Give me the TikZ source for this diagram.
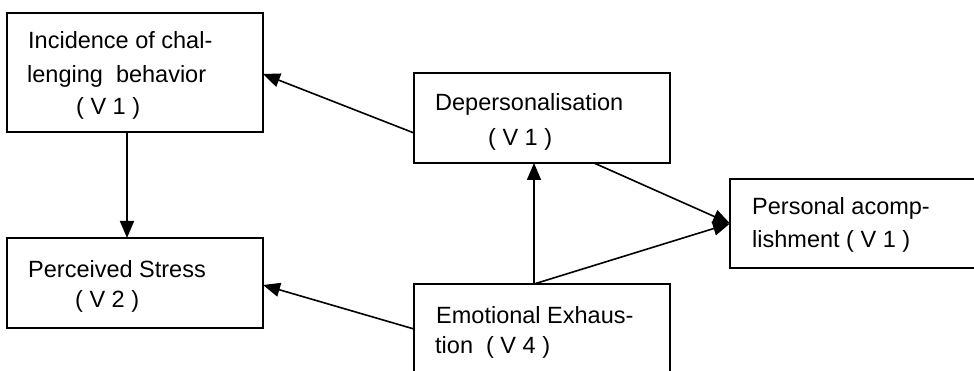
\documentclass[tikz,border=0pt]{standalone}
\usepackage{fontspec}
\setmainfont{Liberation Sans}
\usetikzlibrary{arrows.meta}
\begin{document}
\begin{tikzpicture}[x=1pt,y=-1pt,
  box/.style={draw, line width=1.6pt, inner sep=0pt, outer sep=0pt, anchor=north west},
  txt/.style={anchor=base west, inner sep=0pt, font=\fontsize{23.5}{28}\selectfont},
  arr/.style={line width=1.6pt, -{Triangle[length=17pt,width=14pt]}}]
\useasboundingbox (0,0) rectangle (974,371);
\clip (0,0) rectangle (974,371);
% boxes
\node[box, minimum width=256pt, minimum height=119pt] (b1) at (7,13) {};
\node[box, minimum width=256pt, minimum height=90pt] (b2) at (7,238) {};
\node[box, minimum width=256pt, minimum height=90pt] (b3) at (414,73) {};
\node[box, minimum width=256pt, minimum height=100pt] (b4) at (414,284) {};
\node[box, minimum width=260pt, minimum height=89pt] (b5) at (730,179) {};
% texts
\node[txt] (t1a) at (28,49) {Incidence of chal-};
\node[txt] (t1b) at (27,83) {lenging\ \ behavior};
\node[txt] (t1c) at (76,115) {( V 1 )};
\node[txt] (t2a) at (28,277) {Perceived Stress};
\node[txt] (t2b) at (75,307) {( V 2 )};
\node[txt] (t3a) at (435,111) {Depersonalisation};
\node[txt] (t3b) at (488,146) {( V 1 )};
\node[txt] (t4a) at (436,323) {Emotional Exhaus-};
\node[txt] (t4b) at (435,353) {tion\ \ ( V 4 )};
\node[txt] (t5a) at (752,215) {Personal acomp-};
\node[txt] (t5b) at (752,248) {lishment ( V 1 )};
% connectors
\draw[arr] ([yshift=-15pt]b3.west) -- ([yshift=-1.5pt]b1.east);
\draw[arr] ([xshift=-8pt]b1.south) -- ([xshift=-8pt]b2.north);
\draw[arr] ([yshift=5pt]b4.west) -- ([yshift=-2pt]b2.east);
\draw[arr] ([xshift=-8pt]b4.north) -- ([xshift=-8pt]b3.south);
\draw[arr] ([xshift=52pt]b3.south) -- (b5.west);
\draw[arr] ([xshift=-8pt]b4.north) -- (b5.west);
\end{tikzpicture}
\end{document}
